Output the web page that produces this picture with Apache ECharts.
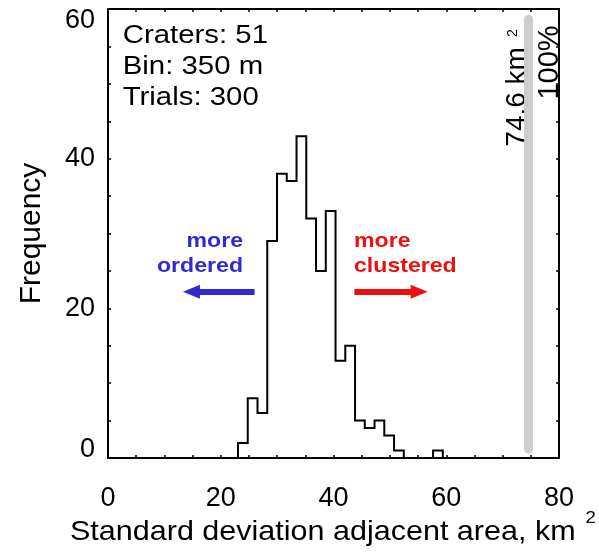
<!DOCTYPE html>
<html>
<head>
<meta charset="utf-8">
<script src="https://cdn.jsdelivr.net/npm/echarts@6/dist/echarts.min.js"></script>
<style>
  html, body { margin: 0; padding: 0; background: #ffffff; }
  #chart { width: 599px; height: 552px; }
</style>
</head>
<body>
<div id="chart"></div>
<script>
// Distribution of the standard deviation of adjacent area over randomized trials
const binStart = 23.06;          // left edge of the first bin, km^2
const binWidth = 1.73;           // histogram bin width, km^2
const binCounts = [2, 8, 6, 29, 38, 37, 43, 32, 25, 33, 13, 15, 5, 4, 5, 3, 1, 0, 0, 0, 1];
const observedValue = 74.6;      // value of the real crater population, km^2
const observedPercentile = '100%';
const statLines = ['Craters: 51', 'Bin: 350 m', 'Trials: 300'];
const xTicks = [0, 20, 40, 60, 80];
const yTicks = [0, 20, 40, 60];
const orderedLabel = ['more', 'ordered'];
const clusteredLabel = ['more', 'clustered'];

const FONT = '"Liberation Sans", Arial, Helvetica, sans-serif';
const BLUE = '#2f2bd3';
const RED = '#ee1010';

// step outline of the histogram
const outline = [[binStart, 0]];
binCounts.forEach((c, i) => {
  const left = binStart + i * binWidth;
  outline.push([left, c], [left + binWidth, c]);
});
outline.push([binStart + binCounts.length * binWidth, 0]);

const tickStyle = { color: '#000', width: 1.5 };
function frameAxis(ticks, position, showLabels) {
  return {
    type: 'value',
    position: position,
    min: ticks[0],
    max: ticks[ticks.length - 1],
    interval: ticks[1] - ticks[0],
    axisLine: { show: true, onZero: false, lineStyle: { color: '#000', width: 2 } },
    axisTick: { show: true, inside: true, length: 3, lineStyle: tickStyle },
    minorTick: { show: true, splitNumber: 4, length: 3, lineStyle: tickStyle },
    splitLine: { show: false },
    axisLabel: { show: showLabels, color: '#000', fontFamily: FONT, fontSize: 27 }
  };
}

const chart = echarts.init(document.getElementById('chart'), null, { renderer: 'canvas' });

const option = {
  animation: false,
  backgroundColor: '#ffffff',
  grid: { left: 108, top: 9, right: 40, bottom: 94, containLabel: false },
  xAxis: [
    frameAxis(xTicks, 'bottom', true),
    frameAxis(xTicks, 'top', false)
  ],
  yAxis: [
    frameAxis(yTicks, 'left', true),
    frameAxis(yTicks, 'right', false)
  ],
  series: [
    {
      type: 'line',
      name: 'observed',
      data: [[observedValue, 1.2], [observedValue, 58.6]],
      symbol: 'none',
      silent: true,
      lineStyle: { color: '#cdcdcd', width: 9, cap: 'round' },
      z: 1
    },
    {
      type: 'line',
      name: 'trials',
      data: outline,
      symbol: 'none',
      silent: true,
      lineStyle: { color: '#000', width: 2, join: 'miter' },
      z: 3,
      markLine: {
        silent: true,
        animation: false,
        symbol: ['none', 'triangle'],
        symbolSize: [14, 17],
        label: { show: false },
        data: [
          [
            { coord: [26.0, 22.2], lineStyle: { color: BLUE, width: 6, type: 'solid' }, itemStyle: { color: BLUE } },
            { coord: [14.8, 22.2] }
          ],
          [
            { coord: [43.7, 22.2], lineStyle: { color: RED, width: 6, type: 'solid' }, itemStyle: { color: RED } },
            { coord: [55.2, 22.2] }
          ]
        ]
      }
    }
  ]
};
// end labels of the y axis are pulled inside the frame
const yMin = yTicks[0], yMax = yTicks[yTicks.length - 1];
Object.assign(option.yAxis[0].axisLabel, {
  margin: 13,
  formatter: v => v === yMin ? '{lo|' + v + '}' : v === yMax ? '{hi|' + v + '}' : String(v),
  rich: {
    lo: { fontFamily: FONT, fontSize: 27, color: '#000', padding: [0, 0, 16, 0] },
    hi: { fontFamily: FONT, fontSize: 27, color: '#000', padding: [24, 0, 0, 0] }
  }
});
option.xAxis[0].axisLabel.margin = 27;

chart.setOption(option);

const px = (x, y) => chart.convertToPixel({ xAxisIndex: 0, yAxisIndex: 0 }, [x, y]);
const linePx = px(observedValue, 41.6);
const pctPx = px(observedValue, 47.9);

chart.setOption({
  graphic: [
    {
      type: 'text', x: 122.7, y: 20.3, scaleX: 1.13, silent: true,
      style: { text: statLines.join('\n'), fontFamily: FONT, fontSize: 26, lineHeight: 31,
               fill: '#000', align: 'left', verticalAlign: 'top' }
    },
    {
      type: 'text', x: 243, y: 229, scaleX: 1.1, silent: true,
      style: { text: orderedLabel.join('\n'), fontFamily: FONT, fontSize: 21, fontWeight: 'bold',
               lineHeight: 25, fill: BLUE, align: 'right', verticalAlign: 'top' }
    },
    {
      type: 'text', x: 354, y: 229, scaleX: 1.1, silent: true,
      style: { text: clusteredLabel.join('\n'), fontFamily: FONT, fontSize: 21, fontWeight: 'bold',
               lineHeight: 25, fill: RED, align: 'left', verticalAlign: 'top' }
    },
    {
      type: 'text', x: linePx[0] - 11.7, y: linePx[1], rotation: Math.PI / 2, silent: true,
      style: {
        text: '{m|' + observedValue + ' km}{s|2}',
        align: 'left', verticalAlign: 'middle', fill: '#000',
        rich: {
          m: { fontFamily: FONT, fontSize: 28, fill: '#000' },
          s: { fontFamily: FONT, fontSize: 14, fill: '#000', padding: [0, 0, 7, 10] }
        }
      }
    },
    {
      type: 'text', x: pctPx[0] + 21.3, y: pctPx[1], rotation: Math.PI / 2, silent: true,
      style: { text: observedPercentile, fontFamily: FONT, fontSize: 29, fill: '#000',
               align: 'left', verticalAlign: 'middle' }
    },
    {
      type: 'text', x: 31.5, y: 233.5, rotation: Math.PI / 2, silent: true,
      style: { text: 'Frequency', fontFamily: FONT, fontSize: 30, fill: '#000',
               align: 'center', verticalAlign: 'middle' }
    },
    {
      type: 'text', x: 70, y: 532, scaleX: 1.09, silent: true,
      style: {
        text: '{m|Standard deviation adjacent area, km}{s|2}',
        align: 'left', verticalAlign: 'middle', fill: '#000',
        rich: {
          m: { fontFamily: FONT, fontSize: 28, fill: '#000' },
          s: { fontFamily: FONT, fontSize: 17, fill: '#000', padding: [0, 0, 28, 9] }
        }
      }
    }
  ]
});
</script>
</body>
</html>
